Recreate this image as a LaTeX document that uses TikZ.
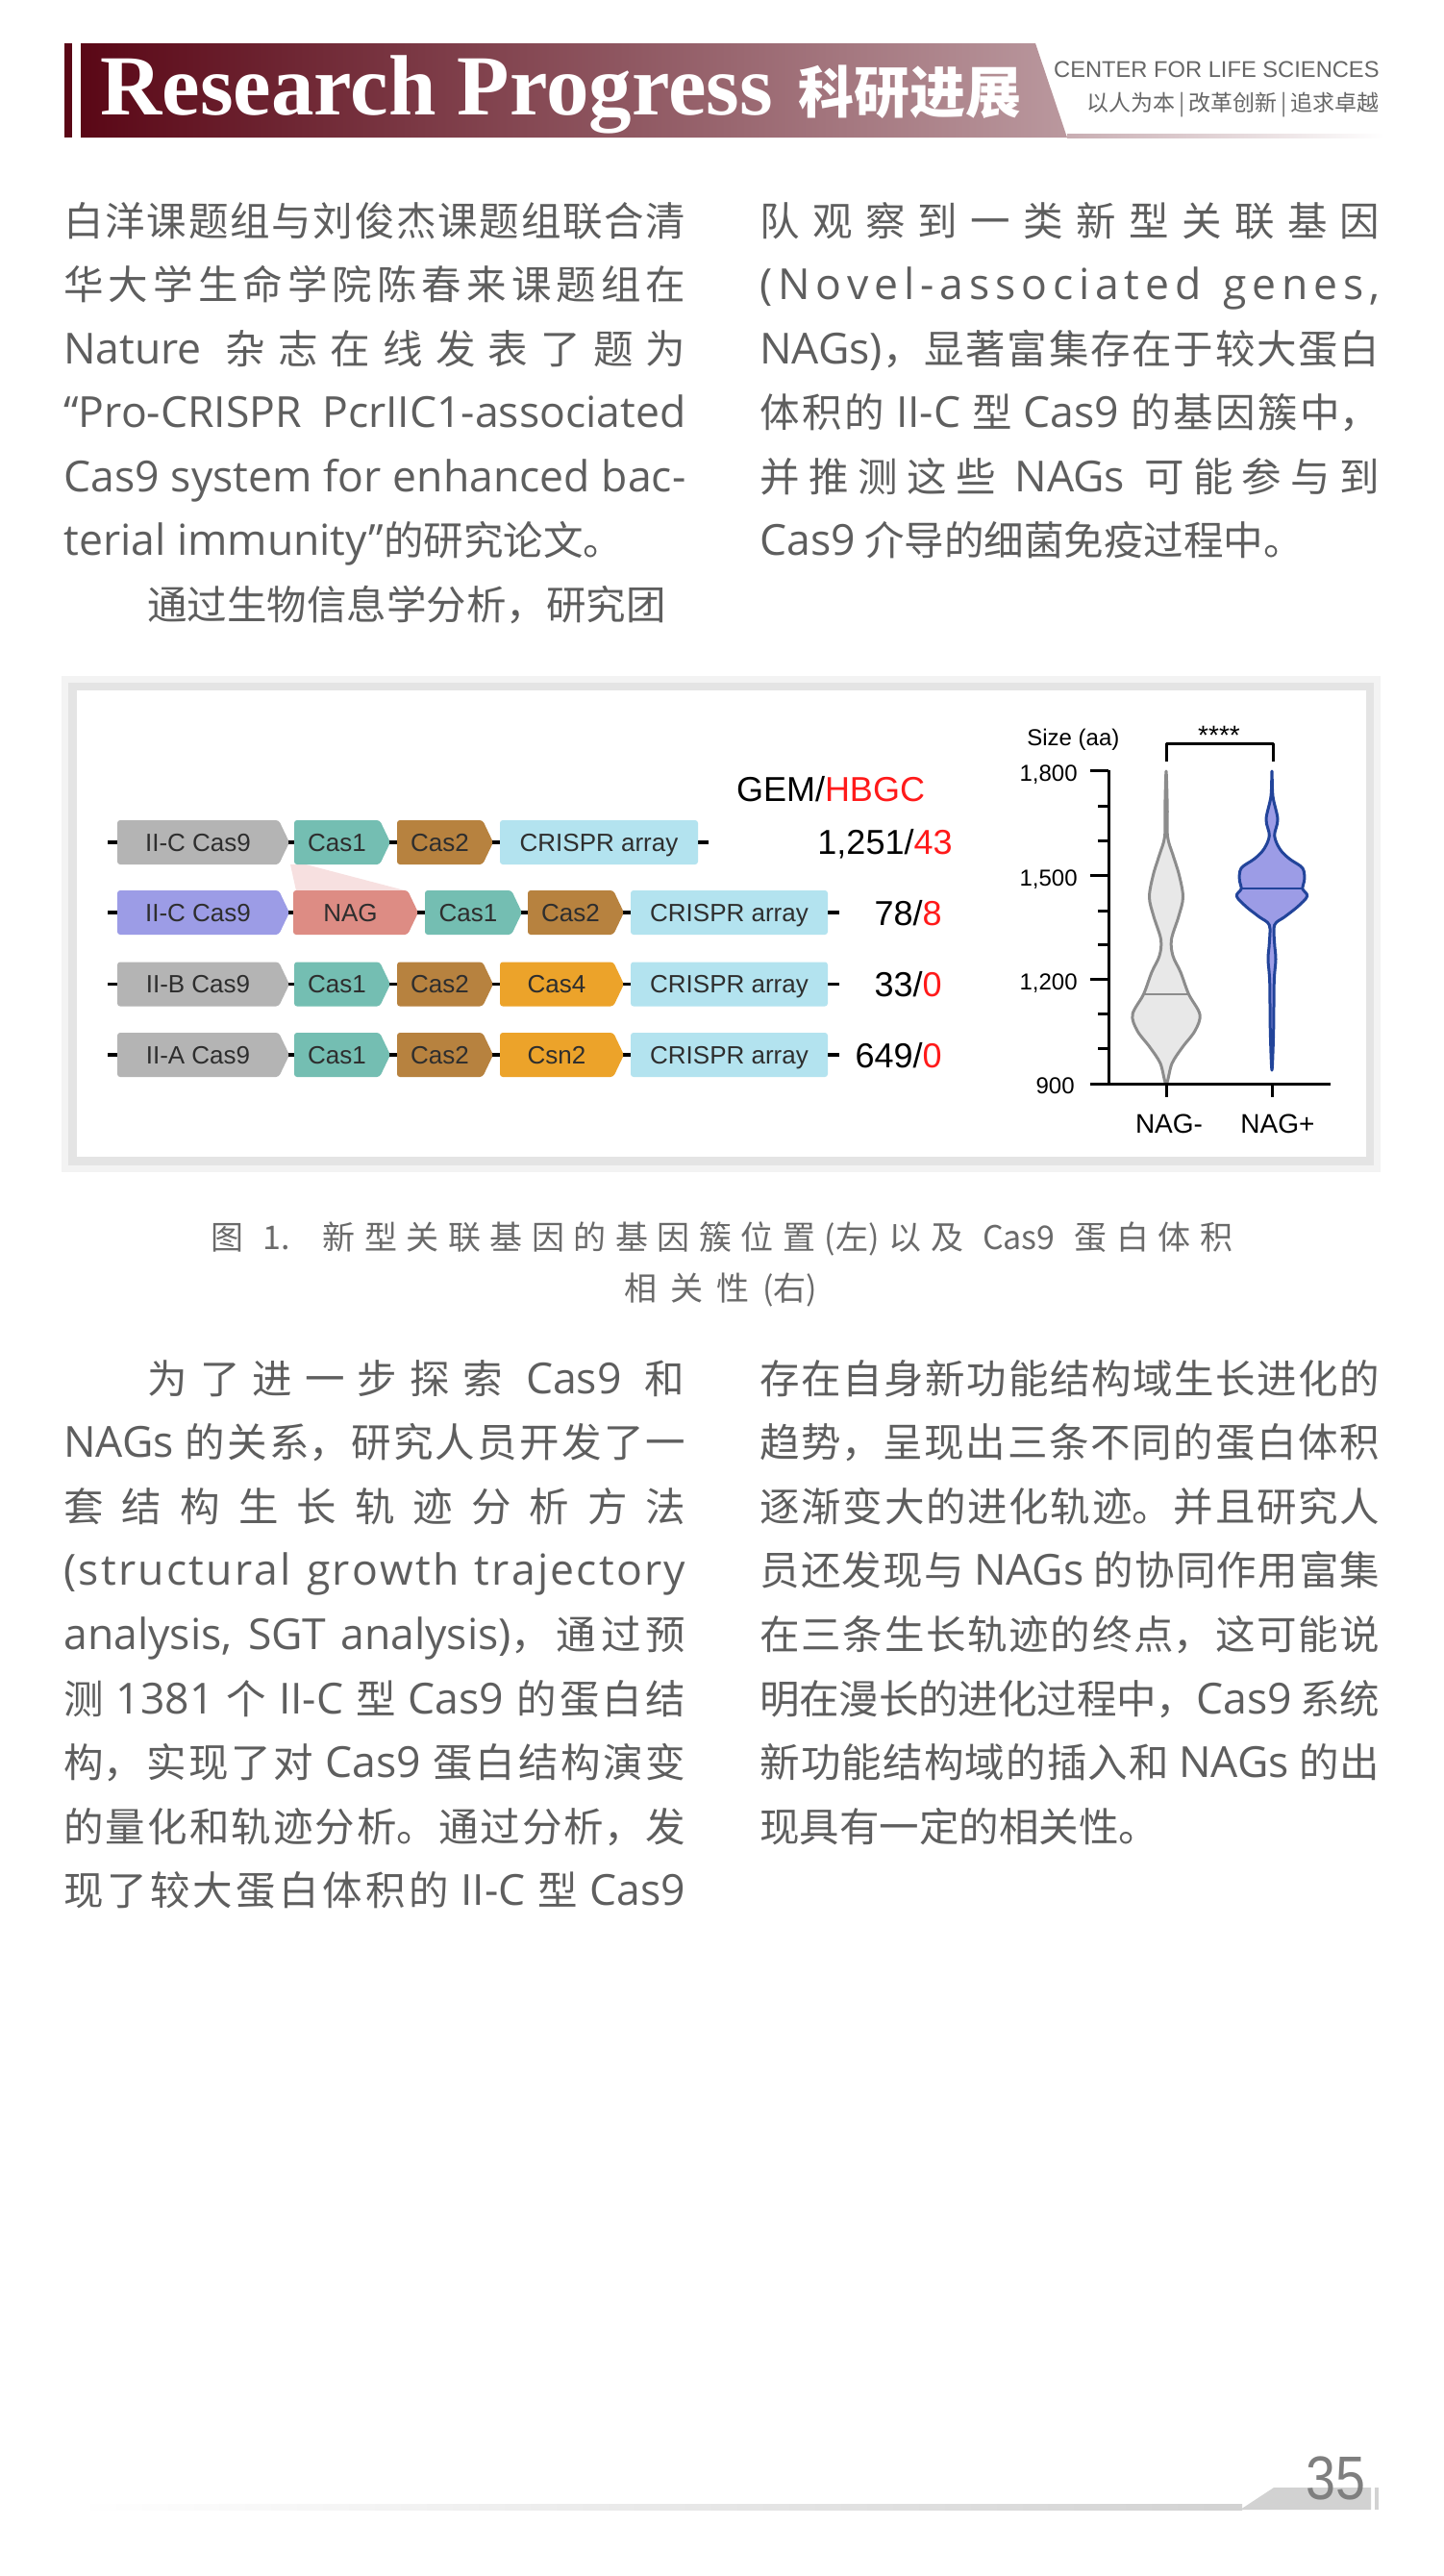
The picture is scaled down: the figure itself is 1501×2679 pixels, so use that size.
\documentclass[tikz,border=0pt]{standalone}
\usepackage{fontspec}
\usepackage{graphicx}
\setmainfont{Liberation Sans}
\newfontfamily\cjk{Noto Sans CJK SC}
\newfontfamily\opensans{Open Sans}
\newfontfamily\titleserif{Liberation Serif}
\XeTeXlinebreaklocale "zh"
\XeTeXlinebreakskip=0pt plus 3pt minus 1pt

% colours
\definecolor{maroondark}{HTML}{5A0716}
\definecolor{maroonmid}{HTML}{7C2E3E}
\definecolor{maroonlight}{HTML}{BA989E}
\definecolor{headgray}{HTML}{666666}
\definecolor{bodygray}{HTML}{5E5E5E}
\definecolor{capgray}{HTML}{6A6A6A}
\definecolor{labelgray}{HTML}{2E2E2E}
\definecolor{cas9gray}{HTML}{B4B4B4}
\definecolor{cas9purple}{HTML}{9C9CE6}
\definecolor{cas1teal}{HTML}{74BEB2}
\definecolor{cas2brown}{HTML}{B7823F}
\definecolor{cas4orange}{HTML}{ECA32A}
\definecolor{nagsalmon}{HTML}{DD8C84}
\definecolor{crisprblue}{HTML}{B3E3EF}
\definecolor{nagpink}{HTML}{F7E0E0}
\definecolor{hbgcred}{HTML}{FF1A1A}
\definecolor{violingray}{HTML}{8C8C8C}
\definecolor{violinfill}{HTML}{E8E8E8}
\definecolor{violinblue}{HTML}{22449A}
\definecolor{framegray}{HTML}{E4E4E4}
\definecolor{halogray}{HTML}{F3F3F3}
\definecolor{footgray}{HTML}{D2D2D2}
\definecolor{pagegray}{HTML}{7F7F7F}

% one justified line of text
\newcommand{\jl}[2]{\parbox[b]{#1}{\pretolerance=10000\tolerance=10000\hbadness=10000\parindent=0pt\parfillskip=0pt\spaceskip=4.5pt plus 3.5pt minus 0.5pt\relax #2}}
\newcommand{\latinfont}{\opensans\fontsize{22.25}{26}\selectfont}
\newcommand{\la}[1]{{\latinfont #1}}
% letter spacing for one word
\def\lspA#1#2\lspEnd{#1\ifx\relax#2\relax\else\hfil\lspA#2\lspEnd\fi}
\newcommand{\lsp}[1]{\lspA#1\lspEnd}

% gene arrow: name, x start, x end, y centre, colour, label
\newcommand{\gene}[6]{%
  \fill[#5, rounded corners=1.5pt] (#2,#4-23) -- (#3-11,#4-23) -- (#3,#4) -- (#3-11,#4+23) -- (#2,#4+23) -- cycle;
  \node[genelabel] (#1) at ({(#2+#3-11)/2},#4+9) {#6};}
% CRISPR array box: name, x start, x end, y centre
\newcommand{\crispr}[4]{%
  \fill[crisprblue, rounded corners=1.5pt] (#2,#4-23) rectangle (#3,#4+23);
  \node[genelabel] (#1) at ({(#2+#3)/2},#4+9) {CRISPR array};}

\tikzset{
  bodyline/.style={anchor=base west, inner sep=0pt, text=bodygray, font=\cjk\fontsize{20.75}{25}\selectfont},
  capline/.style={anchor=base west, inner sep=0pt, text=capgray, font=\cjk\fontsize{17}{20}\selectfont},
  genelabel/.style={anchor=base, inner sep=0pt, text=labelgray, font=\fontsize{13}{15}\selectfont},
  countlabel/.style={anchor=base east, inner sep=0pt, font=\fontsize{18}{21}\selectfont},
  axislabel/.style={inner sep=0pt, font=\fontsize{12}{14}\selectfont},
  backbone/.style={line width=1.75pt, black},
  axisline/.style={line width=1.5pt, black},
}

\begin{document}
\begin{tikzpicture}[x=0.5pt, y=-0.5pt, line join=round]
\useasboundingbox (0,0) rectangle (1501,2679);

% Header bar
\fill[maroondark] (67,45) rectangle (75,143);
\shade[left color=maroondark, middle color=maroonmid, right color=maroonlight] (84,45) -- (1077,45) -- (1110,143) -- (84,143) -- cycle;
\shade[left color=maroonlight!80!white, right color=white] (1110,139) rectangle (1440,143);
\node[anchor=base west, inner sep=0pt, text=white, font=\titleserif\bfseries\fontsize{44.5}{50}\selectfont] (title) at (104,119) {Research Progress};
\node[anchor=base west, inner sep=0pt, text=white, font=\cjk\bfseries\fontsize{29}{34}\selectfont] (titlecn) at (830,117) {科研进展};
\node[anchor=base east, inner sep=0pt, text=headgray, font=\fontsize{11.85}{14}\selectfont] (centre) at (1435,80.5) {CENTER FOR LIFE SCIENCES};
\node[anchor=base east, inner sep=0pt, text=headgray, font=\cjk\fontsize{11.5}{14}\selectfont] (motto) at (1435,115.5) {以人为本\,|\,改革创新\,|\,追求卓越};

% Upper text, left column
\node[bodyline] (b1) at (66,245) {\jl{323.5pt}{白洋课题组与刘俊杰课题组联合清}};
\node[bodyline] (b2) at (66,311.5) {\jl{323.5pt}{华大学生命学院陈春来课题组在}};
\node[bodyline] (b3) at (66,378) {\jl{323.5pt}{\la{Nature} 杂志在线发表了题为}};
\node[bodyline] (b4) at (66,444.5) {\jl{323.5pt}{\la{“Pro-CRISPR PcrIIC1-associated}}};
\node[bodyline] (b5) at (66,511) {\jl{323.5pt}{\la{Cas9 system for enhanced bac-}}};
\node[bodyline] (b6) at (66,577.5) {\la{terial immunity”}的研究论文。};
\node[bodyline] (b7) at (153,644) {通过生物信息学分析，研究团};

% Upper text, right column
\node[bodyline] (r1) at (790,245) {\jl{322.5pt}{队观察到一类新型关联基因}};
\node[bodyline] (r2) at (790,311.5) {\hbox to 322.5pt{\latinfont\lsp{(Novel-associated}\hfil\ \hfil\lsp{genes,}}};
\node[bodyline] (r3) at (790,378) {\jl{322.5pt}{\la{NAGs)}，显著富集存在于较大蛋白}};
\node[bodyline] (r4) at (790,444.5) {\jl{322.5pt}{体积的 \la{II-C} 型 \la{Cas9} 的基因簇中，}};
\node[bodyline] (r5) at (790,511) {\jl{322.5pt}{并推测这些 \la{NAGs} 可能参与到}};
\node[bodyline] (r6) at (790,577.5) {\la{Cas9} 介导的细菌免疫过程中。};

% Figure frame
\fill[halogray] (64,703) rectangle (1436,1219);
\fill[framegray] (71,710) rectangle (1429,1212);
\fill[white] (80,718) rectangle (1421,1203);

% Gene clusters
\node[anchor=base, inner sep=0pt, font=\fontsize{18}{21}\selectfont] (gem) at (864,833) {GEM/\textcolor{hbgcred}{HBGC}};
\fill[nagpink] (302,899) -- (308,926) -- (421,926) -- (318,899) -- cycle;

\coordinate (row1s) at (112,876);
\coordinate (row1e) at (737,876);
\draw[backbone] (row1s) -- (row1e);
\gene{r1cas9}{122}{301}{876}{cas9gray}{II-C Cas9}
\gene{r1cas1}{306}{406}{876}{cas1teal}{Cas1}
\gene{r1cas2}{413}{513}{876}{cas2brown}{Cas2}
\crispr{r1arr}{520}{726}{876}
\node[countlabel] (n1) at (991,888) {1,251/\textcolor{hbgcred}{43}};

\coordinate (row2s) at (112,949);
\coordinate (row2e) at (873,949);
\draw[backbone] (row2s) -- (row2e);
\gene{r2cas9}{122}{301}{949}{cas9purple}{II-C Cas9}
\gene{r2nag}{305}{435}{949}{nagsalmon}{NAG}
\gene{r2cas1}{442}{543}{949}{cas1teal}{Cas1}
\gene{r2cas2}{549}{649}{949}{cas2brown}{Cas2}
\crispr{r2arr}{656}{861}{949}
\node[countlabel] (n2) at (980,962) {78/\textcolor{hbgcred}{8}};

\coordinate (row3s) at (112,1023.5);
\coordinate (row3e) at (873,1023.5);
\draw[backbone] (row3s) -- (row3e);
\gene{r3cas9}{122}{301}{1023.5}{cas9gray}{II-B Cas9}
\gene{r3cas1}{306}{406}{1023.5}{cas1teal}{Cas1}
\gene{r3cas2}{413}{513}{1023.5}{cas2brown}{Cas2}
\gene{r3cas4}{520}{649}{1023.5}{cas4orange}{Cas4}
\crispr{r3arr}{656}{861}{1023.5}
\node[countlabel] (n3) at (980,1036) {33/\textcolor{hbgcred}{0}};

\coordinate (row4s) at (112,1097);
\coordinate (row4e) at (873,1097);
\draw[backbone] (row4s) -- (row4e);
\gene{r4cas9}{122}{301}{1097}{cas9gray}{II-A Cas9}
\gene{r4cas1}{306}{406}{1097}{cas1teal}{Cas1}
\gene{r4cas2}{413}{513}{1097}{cas2brown}{Cas2}
\gene{r4csn2}{520}{649}{1097}{cas4orange}{Csn2}
\crispr{r4arr}{656}{861}{1097}
\node[countlabel] (n4) at (980,1110) {649/\textcolor{hbgcred}{0}};

% Violin plot
\filldraw[fill=violinfill, draw=violingray, line width=1.5pt] plot[smooth cycle, tension=0.55] coordinates {
  (1213,802) (1214.2,840) (1214.5,870) (1220,889) (1226.5,910) (1230.5,933) (1226,953) (1218.5,977)
  (1220,994) (1228,1011) (1236.5,1034) (1248,1055) (1243,1072) (1230,1089) (1219,1106) (1213,1127)
  (1207,1106) (1196,1089) (1183,1072) (1178,1055) (1189.5,1034) (1198,1011) (1206,994) (1207.5,977)
  (1200,953) (1195.5,933) (1199.5,910) (1206,889) (1211.5,870) (1211.8,840)};
\draw[violingray, line width=1pt] (1190,1034) -- (1236,1034);
\filldraw[fill=cas9purple, draw=violinblue, line width=1.5pt] plot[smooth cycle, tension=0.55] coordinates {
  (1323,802) (1324,828) (1329,852) (1325.7,869) (1331.3,883) (1341,893) (1355,903) (1356.7,916)
  (1354.7,924) (1359.7,932) (1349.7,943) (1336.3,953.5) (1325.7,962) (1325.7,981) (1327,997.5)
  (1325.3,1021) (1324.7,1072) (1323,1113) (1321.3,1072) (1320.7,1021) (1319,997.5) (1320.3,981)
  (1320.3,962) (1309.7,953.5) (1296.3,943) (1286.3,932) (1291.3,924) (1289.3,916) (1291,903)
  (1305,893) (1314.7,883) (1320.3,869) (1317,852) (1322,828)};
\draw[violinblue, line width=1pt] (1291.5,924) -- (1354.5,924);

% Axes and ticks
\coordinate (ytop) at (1153,801);
\coordinate (origin) at (1153,1127);
\coordinate (xstart) at (1134,1127);
\coordinate (xend) at (1384,1127);
\draw[axisline] (ytop) -- (origin);
\draw[axisline] (xstart) -- (xend);
\draw[axisline] (1134,801) -- (1153,801);
\draw[axisline] (1134,910) -- (1153,910);
\draw[axisline] (1134,1018.5) -- (1153,1018.5);
\draw[axisline] (1142,838) -- (1153,838);
\draw[axisline] (1142,874) -- (1153,874);
\draw[axisline] (1142,947) -- (1153,947);
\draw[axisline] (1142,982) -- (1153,982);
\draw[axisline] (1142,1054) -- (1153,1054);
\draw[axisline] (1142,1090) -- (1153,1090);
\draw[axisline] (1213,1127) -- (1213,1141);
\draw[axisline] (1323,1127) -- (1323,1141);
\draw[axisline] (1213,792) -- (1213,773) -- (1324,773) -- (1324,792);

% Axis labels
\node[axislabel, anchor=base west] (size) at (1068,775) {Size (aa)};
\node[axislabel, anchor=base, font=\fontsize{14}{16}\selectfont] (stars) at (1268,774) {****};
\node[axislabel, anchor=base east] (t1800) at (1121,812) {1,800};
\node[axislabel, anchor=base east] (t1500) at (1121,921) {1,500};
\node[axislabel, anchor=base east] (t1200) at (1121,1029.5) {1,200};
\node[axislabel, anchor=base east] (t900) at (1118,1137) {900};
\node[axislabel, anchor=base, font=\fontsize{14}{16}\selectfont] (nagneg) at (1216,1178) {NAG-};
\node[axislabel, anchor=base, font=\fontsize{14}{16}\selectfont] (nagpos) at (1329,1178) {NAG+};

% Caption
\node[capline] (cap1) at (219,1299) {\jl{531.5pt}{图 1.\quad 新型关联基因的基因簇位置(左)以及 Cas9 蛋白体积}};
\node[capline] (cap2) at (649,1352) {\jl{100.5pt}{相关性(右)}};

% Lower text, left column
\node[bodyline] (l1) at (153,1449) {\jl{279.5pt}{为了进一步探索 \la{Cas9} 和}};
\node[bodyline] (l2) at (66,1515.6) {\jl{323.5pt}{\la{NAGs} 的关系，研究人员开发了一}};
\node[bodyline] (l3) at (66,1582.2) {\jl{323.5pt}{套结构生长轨迹分析方法}};
\node[bodyline] (l4) at (66,1648.8) {\hbox to 323.5pt{\latinfont\lsp{(structural}\hfil\ \hfil\lsp{growth}\hfil\ \hfil\lsp{trajectory}}};
\node[bodyline] (l5) at (66,1715.4) {\jl{323.5pt}{\la{analysis, SGT analysis)}，通过预}};
\node[bodyline] (l6) at (66,1782) {\jl{323.5pt}{测 \la{1381} 个 \la{II-C} 型 \la{Cas9} 的蛋白结}};
\node[bodyline] (l7) at (66,1848.6) {\jl{323.5pt}{构，实现了对 \la{Cas9} 蛋白结构演变}};
\node[bodyline] (l8) at (66,1915.2) {\jl{323.5pt}{的量化和轨迹分析。通过分析，发}};
\node[bodyline] (l9) at (66,1981.8) {\jl{323.5pt}{现了较大蛋白体积的 \la{II-C} 型 \la{Cas9}}};

% Lower text, right column
\node[bodyline] (m1) at (790,1449) {\jl{322.5pt}{存在自身新功能结构域生长进化的}};
\node[bodyline] (m2) at (790,1515.6) {\jl{322.5pt}{趋势，呈现出三条不同的蛋白体积}};
\node[bodyline] (m3) at (790,1582.2) {\jl{322.5pt}{逐渐变大的进化轨迹。并且研究人}};
\node[bodyline] (m4) at (790,1648.8) {\jl{322.5pt}{员还发现与 \la{NAGs} 的协同作用富集}};
\node[bodyline] (m5) at (790,1715.4) {\jl{322.5pt}{在三条生长轨迹的终点，这可能说}};
\node[bodyline] (m6) at (790,1782) {\jl{322.5pt}{明在漫长的进化过程中，\la{Cas9} 系统}};
\node[bodyline] (m7) at (790,1848.6) {\jl{322.5pt}{新功能结构域的插入和 \la{NAGs} 的出}};
\node[bodyline] (m8) at (790,1915.2) {现具有一定的相关性。};

% Footer
\shade[left color=white, right color=footgray] (80,2604) rectangle (1292,2610);
\fill[footgray] (1290,2610) -- (1325,2587) -- (1426,2587) -- (1426,2610) -- cycle;
\fill[footgray] (1430,2587) rectangle (1434,2610);
\node[anchor=base, inner sep=0pt, text=pagegray, font=\fontsize{32}{36}\selectfont] (page) at (1389,2599) {\scalebox{0.87}[1]{35}};

\end{tikzpicture}
\end{document}
